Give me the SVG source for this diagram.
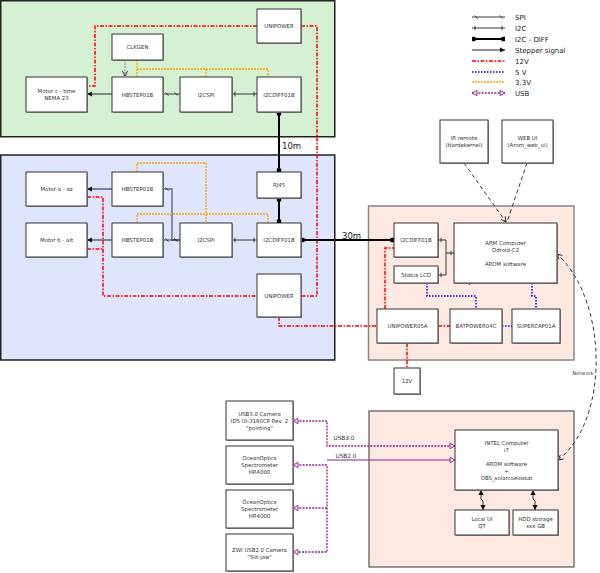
<svg xmlns="http://www.w3.org/2000/svg" width="600" height="573" viewBox="0 0 600 573">
<style>
text{font-family:"DejaVu Sans","Liberation Sans",sans-serif;font-size:5.4px;fill:#333;text-anchor:middle}
.lg{font-size:7px;text-anchor:start;fill:#222}
.big{font-size:8.5px;text-anchor:start;fill:#222}
.nd rect.b{fill:#fff;stroke:#333;stroke-width:1}
.nd rect.s{fill:#999;stroke:none}
.c{fill:none}
.spi{stroke:#222;stroke-width:0.9;marker-start:url(#mspi);marker-end:url(#mspi)}
.spig{stroke:#667;stroke-width:1.4;marker-start:url(#mspi);marker-end:url(#mspi)}
.i2c{stroke:#222;stroke-width:0.9;marker-start:url(#mi2c);marker-end:url(#mi2c)}
.dif{stroke:#000;stroke-width:2;marker-start:url(#mdif);marker-end:url(#mdif)}
.stp{stroke:#222;stroke-width:1;marker-end:url(#marr)}
.stpg{stroke:#667;stroke-width:1.6;marker-end:url(#marr)}
.v12{stroke:#f00;stroke-width:1.5;stroke-dasharray:4 1.5 1.5 1.5}
.v5{stroke:#00f;stroke-width:1.5;stroke-dasharray:1.5 1.5}
.v33{stroke:#ffa500;stroke-width:1.3;stroke-dasharray:2 1}
.usb{stroke:#8f1f8f;stroke-width:1.3;stroke-dasharray:2 1.2;marker-start:url(#musb);marker-end:url(#musb)}
.usb1{stroke:#8f1f8f;stroke-width:1.3;stroke-dasharray:2 1.2;marker-end:url(#musb)}
.usbs{stroke:#8f1f8f;stroke-width:1;marker-end:url(#musb)}
.net{stroke:#222;stroke-width:0.9;stroke-dasharray:4 3}
</style>
<defs>
<marker id="mspi" markerUnits="userSpaceOnUse" markerWidth="12" markerHeight="12" viewBox="-6 -6 12 12" refX="0" refY="0" orient="auto-start-reverse" overflow="visible">
<path d="M-5.5,-1.6 L-2.5,1.6" stroke="#222" stroke-width="0.8" fill="none"/>
</marker>
<marker id="mi2c" markerUnits="userSpaceOnUse" markerWidth="12" markerHeight="12" viewBox="-6 -6 12 12" refX="0" refY="0" orient="auto-start-reverse" overflow="visible">
<path d="M-3,-2.3 V2.3" stroke="#222" stroke-width="0.8" fill="none"/>
</marker>
<marker id="mdif" markerUnits="userSpaceOnUse" markerWidth="12" markerHeight="12" viewBox="-6 -6 12 12" refX="0" refY="0" orient="auto-start-reverse" overflow="visible">
<rect x="-3.5" y="-2.2" width="3.5" height="4.4" fill="#000"/>
</marker>
<marker id="marr" markerUnits="userSpaceOnUse" markerWidth="12" markerHeight="12" viewBox="-6 -6 12 12" refX="0" refY="0" orient="auto-start-reverse" overflow="visible">
<path d="M-5,-2.6 L0,0 L-5,2.6 z" fill="#111"/>
</marker>
<marker id="mopen" markerUnits="userSpaceOnUse" markerWidth="12" markerHeight="12" viewBox="-6 -6 12 12" refX="0" refY="0" orient="auto-start-reverse" overflow="visible">
<path d="M-5,-2.6 L0,0 L-5,2.6" fill="none" stroke="#222" stroke-width="0.9"/>
</marker>
<marker id="musb" markerUnits="userSpaceOnUse" markerWidth="12" markerHeight="12" viewBox="-6 -6 12 12" refX="0" refY="0" orient="auto-start-reverse" overflow="visible">
<path d="M-5,-2.6 L0,0 L-5,2.6 z" fill="#f3dcf3" stroke="#8f1f8f" stroke-width="0.9"/>
</marker>
</defs>
<rect width="600" height="573" fill="#fff"/>

<g id="panels">
<rect x="0.75" y="0.75" width="334" height="136" fill="#d6f0d4" stroke="#222" stroke-width="1.5"/>
<rect x="0.75" y="155" width="334" height="205" fill="#dfe5fc" stroke="#222" stroke-width="1.5"/>
<rect x="368.5" y="206" width="205.5" height="154" fill="#fde8e2" stroke="#888" stroke-width="1.5"/>
<rect x="369" y="411" width="205" height="156" fill="#fde8e2" stroke="#555" stroke-width="1.2"/>
</g>

<g id="connectors">
<path class="c v12" d="M257,26 H95 V86 H87"/>
<path class="c v12" d="M301,26 H317 V296 H301"/>
<path class="c v33" d="M137,60 V77 M137,69 H268 V77 M206,69 V77"/>
<path class="c" d="M125,60 V76" stroke="#555" stroke-width="0.7" stroke-dasharray="2 1" marker-end="url(#mopen)"/>
<path class="c stp" d="M112,94 H87"/>
<path class="c spi" d="M163,94 H180"/>
<path class="c i2c" d="M232,94 H257"/>
<path class="c dif" d="M279,112 V172"/>
<path class="c stpg" d="M112,189 H87"/>
<path class="c spig" d="M163,189 H172 V240 H180"/>
<path class="c spi" d="M163,240 H180"/>
<path class="c stp" d="M112,240 H87"/>
<path class="c i2c" d="M232,240 H257"/>
<path class="c v33" d="M137,172 V163 H206 V223"/>
<path class="c v33" d="M137,223 V214 H268 V223"/>
<path class="c dif" d="M279,198 V223"/>
<path class="c v12" d="M87,197 H103 V296 H257 M87,249 H103"/>
<path class="c v12" d="M279,317 V326 H377"/>
<path class="c dif" d="M301,240 H394"/>
<path class="c i2c" d="M438,240 H446 V275 H438"/>
<path class="c" d="M446,253 H454" stroke="#222" stroke-width="0.9" marker-end="url(#mi2c)"/>
<path class="c v12" d="M385,309 V248 H394"/>
<path class="c v12" d="M438,326 H450"/>
<path class="c v12" d="M407,343 V368"/>
<path class="c v5" d="M427,283 V296 H476 V309"/>
<path class="c v5" d="M502,326 H512"/>
<path class="c v5" d="M532,283 V296 H536 V309"/>
<path class="c" d="M465,281 L470,285" stroke="#333" stroke-width="0.8"/>
<path class="c net" d="M464,163 L506,222" marker-end="url(#mopen)"/>
<path class="c net" d="M527,163 L507,222"/>
<path class="c net" d="M558,460 C610,420 608,300 557,254" marker-start="url(#mopen)" marker-end="url(#mopen)"/>
<path class="c usb" d="M293,421 H327 V446 H455"/>
<path class="c usbs" d="M327,460 H455"/>
<path class="c usb" d="M293,465 H327 V552 H293"/>
<path class="c usb1" d="M327,508 H293"/>
<path class="c" d="M481,490 V499 L483,501 V510" stroke="#222" stroke-width="0.9" marker-start="url(#marr)" marker-end="url(#marr)"/>
<path class="c" d="M533,490 V499 L535,501 V510" stroke="#222" stroke-width="0.9" marker-start="url(#marr)" marker-end="url(#marr)"/>
</g>

<g id="labels">
<text class="big" x="282" y="149">10m</text>
<text class="big" x="342" y="239">30m</text>
<text x="583" y="375" style="font-size:5px">Network</text>
<text x="344" y="440" style="font-size:5.8px">USB3.0</text>
<text x="346" y="458" style="font-size:5.8px">USB2.0</text>
</g>

<g id="n_unipower_top" class="nd"><rect class="s" x="258" y="10" width="44" height="34"/><rect class="b" x="257" y="9" width="44" height="34"/><text x="279" y="28">UNIPOWER</text></g>
<g id="n_clkgen" class="nd"><rect class="s" x="113" y="35" width="51" height="26"/><rect class="b" x="112" y="34" width="51" height="26"/><text x="137.5" y="49">CLKGEN</text></g>
<g id="n_motor_c" class="nd"><rect class="s" x="27" y="78" width="61" height="35"/><rect class="b" x="26" y="77" width="61" height="35"/><text x="56.5" y="93">Motor c - time</text><text x="56.5" y="100">NEMA 23</text></g>
<g id="n_hbstep_c" class="nd"><rect class="s" x="113" y="78" width="51" height="35"/><rect class="b" x="112" y="77" width="51" height="35"/><text x="137.5" y="96.5">HBSTEP01B</text></g>
<g id="n_i2cspi_top" class="nd"><rect class="s" x="181" y="78" width="52" height="35"/><rect class="b" x="180" y="77" width="52" height="35"/><text x="206" y="96.5">I2CSPI</text></g>
<g id="n_i2cdiff_top" class="nd"><rect class="s" x="258" y="78" width="44" height="35"/><rect class="b" x="257" y="77" width="44" height="35"/><text x="279" y="96.5">I2CDIFF01B</text></g>

<g id="n_motor_a" class="nd"><rect class="s" x="27" y="173" width="61" height="34"/><rect class="b" x="26" y="172" width="61" height="34"/><text x="56.5" y="191">Motor a - az</text></g>
<g id="n_hbstep_a" class="nd"><rect class="s" x="113" y="173" width="51" height="34"/><rect class="b" x="112" y="172" width="51" height="34"/><text x="137.5" y="191">HBSTEP01B</text></g>
<g id="n_rj45" class="nd"><rect class="s" x="258" y="173" width="44" height="26"/><rect class="b" x="257" y="172" width="44" height="26"/><text x="279" y="187">RJ45</text></g>
<g id="n_motor_b" class="nd"><rect class="s" x="27" y="224" width="61" height="34"/><rect class="b" x="26" y="223" width="61" height="34"/><text x="56.5" y="242">Motor b - alt</text></g>
<g id="n_hbstep_b" class="nd"><rect class="s" x="113" y="224" width="51" height="34"/><rect class="b" x="112" y="223" width="51" height="34"/><text x="137.5" y="242">HBSTEP01B</text></g>
<g id="n_i2cspi_mid" class="nd"><rect class="s" x="181" y="224" width="52" height="34"/><rect class="b" x="180" y="223" width="52" height="34"/><text x="206" y="242">I2CSPI</text></g>
<g id="n_i2cdiff_mid" class="nd"><rect class="s" x="258" y="224" width="44" height="34"/><rect class="b" x="257" y="223" width="44" height="34"/><text x="279" y="242">I2CDIFF01B</text></g>
<g id="n_unipower_mid" class="nd"><rect class="s" x="258" y="275" width="44" height="43"/><rect class="b" x="257" y="274" width="44" height="43"/><text x="279" y="298">UNIPOWER</text></g>

<g id="n_ir" class="nd"><rect class="s" x="441" y="121" width="48" height="43"/><rect class="b" x="440" y="120" width="48" height="43"/><text x="464" y="140">IR remote</text><text x="464" y="147">(Hardekernel)</text></g>
<g id="n_webui" class="nd"><rect class="s" x="503" y="121" width="51" height="43"/><rect class="b" x="502" y="120" width="51" height="43"/><text x="527.5" y="140">WEB UI</text><text x="527.5" y="147">(Arom_web_ui)</text></g>
<g id="n_i2cdiff_r" class="nd"><rect class="s" x="395" y="224" width="44" height="34"/><rect class="b" x="394" y="223" width="44" height="34"/><text x="416" y="242">I2CDIFF01B</text></g>
<g id="n_lcd" class="nd"><rect class="s" x="395" y="267" width="44" height="17"/><rect class="b" x="394" y="266" width="44" height="17"/><text x="416" y="276.5">Status LCD</text></g>
<g id="n_arm" class="nd"><rect class="s" x="455" y="224" width="103" height="60"/><rect class="b" x="454" y="223" width="103" height="60"/><text x="505.5" y="245">ARM Computer</text><text x="505.5" y="252">Odroid-C2</text><text x="505.5" y="266">AROM software</text></g>
<g id="n_unipower05a" class="nd"><rect class="s" x="378" y="310" width="61" height="34"/><rect class="b" x="377" y="309" width="61" height="34"/><text x="407.5" y="328">UNIPOWER05A</text></g>
<g id="n_batpower" class="nd"><rect class="s" x="451" y="310" width="52" height="34"/><rect class="b" x="450" y="309" width="52" height="34"/><text x="476" y="328">BATPOWER04C</text></g>
<g id="n_supercap" class="nd"><rect class="s" x="513" y="310" width="48" height="34"/><rect class="b" x="512" y="309" width="48" height="34"/><text x="536" y="328">SUPERCAP01A</text></g>
<g id="n_12v" class="nd"><rect class="s" x="395" y="369" width="26" height="26"/><rect class="b" x="394" y="368" width="26" height="26"/><text x="407" y="383">12V</text></g>

<g id="n_usb3cam" class="nd"><rect class="s" x="227" y="402" width="67" height="39"/><rect class="b" x="226" y="401" width="67" height="39"/><text x="259.5" y="416">USB3.0 Camera</text><text x="259.5" y="423">IDS UI-3180CP Rev. 2</text><text x="259.5" y="430">"pointing"</text></g>
<g id="n_oo1" class="nd"><rect class="s" x="227" y="447" width="67" height="38"/><rect class="b" x="226" y="446" width="67" height="38"/><text x="259.5" y="460">OceanOptics</text><text x="259.5" y="467">Spectrometer</text><text x="259.5" y="474">HR4000</text></g>
<g id="n_oo2" class="nd"><rect class="s" x="227" y="491" width="67" height="38"/><rect class="b" x="226" y="490" width="67" height="38"/><text x="259.5" y="504">OceanOptics</text><text x="259.5" y="511">Spectrometer</text><text x="259.5" y="518">HR4000</text></g>
<g id="n_zwi" class="nd"><rect class="s" x="227" y="535" width="67" height="37"/><rect class="b" x="226" y="534" width="67" height="37"/><text x="259.5" y="552">ZWI USB2.0 Camera</text><text x="259.5" y="559">"Slit-jaw"</text></g>
<g id="n_intel" class="nd"><rect class="s" x="456" y="431" width="103" height="60"/><rect class="b" x="455" y="430" width="103" height="60"/><text x="506.5" y="445">INTEL Computer</text><text x="506.5" y="452">i7</text><text x="506.5" y="466">AROM software</text><text x="506.5" y="473">+</text><text x="506.5" y="480">OBS_solarcoelostat</text></g>
<g id="n_localui" class="nd"><rect class="s" x="456" y="511" width="54" height="25"/><rect class="b" x="455" y="510" width="54" height="25"/><text x="482" y="521">Local UI</text><text x="482" y="528">QT</text></g>
<g id="n_hdd" class="nd"><rect class="s" x="514" y="511" width="45" height="25"/><rect class="b" x="513" y="510" width="45" height="25"/><text x="535.5" y="521">HDD storage</text><text x="535.5" y="528">xxx GB</text></g>

<g id="legend">
<path class="c spi" d="M472,17 H505"/>
<path class="c i2c" d="M472,28 H505"/>
<path class="c dif" d="M472,39 H505"/>
<path class="c stp" d="M472,50 H505"/>
<path class="c v12" d="M472,61 H505"/>
<path class="c v5" d="M472,72 H505"/>
<path class="c v33" d="M472,82 H505"/>
<path class="c usb" d="M472,93 H505"/>
<text class="lg" x="515" y="19.5">SPI</text>
<text class="lg" x="515" y="30.5">I2C</text>
<text class="lg" x="515" y="41.5">I2C - DIFF</text>
<text class="lg" x="515" y="52.5">Stepper signal</text>
<text class="lg" x="515" y="63.5">12V</text>
<text class="lg" x="515" y="74.5">5 V</text>
<text class="lg" x="515" y="84.5">3.3V</text>
<text class="lg" x="515" y="95.5">USB</text>
</g>
</svg>
